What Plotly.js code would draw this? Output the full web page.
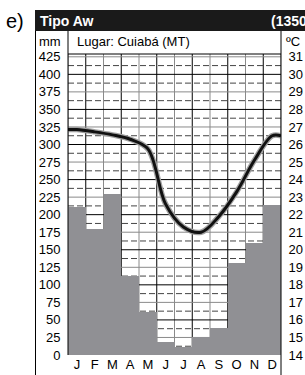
<!DOCTYPE html>
<html><head><meta charset="utf-8">
<script src="https://cdn.plot.ly/plotly-3.0.1.min.js"></script>
<style>html,body{margin:0;padding:0;background:#fff;}#c{width:305px;height:375px;}</style>
</head><body><div id="c"></div>
<script>
const months = ['J','F','M','A','M','J','J','A','S','O','N','D'];
const precip = [211, 179, 229, 113, 62, 18, 12, 25, 38, 131, 159, 214];
const tempC = [26.85, 26.72, 26.55, 26.3, 25.75, 22.6, 21.3, 21.0, 21.9, 23.3, 25.1, 26.5];
const mmTicks = [0,25,50,75,100,125,150,175,200,225,250,275,300,325,350,375,400,425];
const cTicks = [14,15,16,17,18,19,20,21,22,23,24,25,26,27,28,29,30,31];
const title = 'Tipo Aw';
const total = '(1350 mm)';
const place = 'Lugar: Cuiabá (MT)';

const L=68, R=281, T=54, B=355, W=305, H=375;
const yMax = 429;
const px = v => (v - L)/(R - L);
const py = v => (B - v)/(B - T);

const idx = months.map((m,i)=>i);
const tx = [-0.5].concat(idx, [11.5]);
const ty = [tempC[0]].concat(tempC, [tempC[11]]);
const tyMM = ty.map(t => (t-14)*25);

const shapes = [];
for (let k=0;k<=12;k++){
  shapes.push({type:'line', layer:'below', xref:'x', yref:'y', x0:k-0.5, x1:k-0.5, y0:0, y1:yMax,
    line:{color: k%2 ? '#000' : '#8a8a8a', width:1}});
}
for (let v=0; v<=425; v+=25){
  shapes.push({type:'line', layer:'below', xref:'x', yref:'y', x0:-0.5, x1:11.5, y0:v, y1:v,
    line:{color: (v%50===0) ? '#000' : '#8a8a8a', width:1}});
  if (v+12.5 < yMax) shapes.push({type:'line', layer:'below', xref:'x', yref:'y', x0:-0.5, x1:11.5, y0:v+12.5, y1:v+12.5,
    line:{color:'#444', width:1, dash:'6px,3px'}});
}
// frame
shapes.push({type:'rect', xref:'paper', yref:'paper', x0:px(35), x1:px(306), y0:py(31), y1:py(10), fillcolor:'#1a1a1a', line:{width:0}});
shapes.push({type:'line', xref:'paper', yref:'paper', x0:px(35.5), x1:px(35.5), y0:py(376), y1:py(31), line:{color:'#000', width:1}});
shapes.push({type:'line', xref:'paper', yref:'paper', x0:px(68), x1:px(68), y0:py(355), y1:py(31), line:{color:'#000', width:1}});
shapes.push({type:'line', xref:'paper', yref:'paper', x0:px(281), x1:px(281), y0:py(376), y1:py(31), line:{color:'#000', width:1}});
shapes.push({type:'line', xref:'paper', yref:'paper', x0:px(68), x1:px(281), y0:py(54), y1:py(54), line:{color:'#000', width:1}});

const fontF = 'Liberation Sans, Arial, sans-serif';
const data = [
  {type:'bar', x:idx, y:precip, width:1, marker:{color:'#909094', line:{width:0}}, hoverinfo:'skip'},
  {type:'scatter', mode:'lines', x:tx, y:tyMM, line:{shape:'spline', smoothing:1, color:'#a0a0a0', width:5.5}, hoverinfo:'skip'},
  {type:'scatter', mode:'lines', x:tx, y:tyMM, line:{shape:'spline', smoothing:1, color:'#111', width:3}, hoverinfo:'skip'},
  {type:'scatter', mode:'lines', x:[0], y:[14], yaxis:'y2', line:{width:0}, hoverinfo:'skip', showlegend:false}
];
const layout = {
  width:W, height:H, margin:{l:L, r:W-R, t:T, b:H-B, pad:0},
  paper_bgcolor:'#fff', plot_bgcolor:'#fff', showlegend:false, bargap:0,
  font:{family:fontF, size:13, color:'#000'},
  xaxis:{range:[-0.5,11.5], tickvals:idx, ticktext:months, showgrid:false, zeroline:false, showline:false,
    ticks:'', tickfont:{size:13}, fixedrange:true},
  yaxis:{range:[0,yMax], tickvals:mmTicks, showgrid:false, zeroline:false, showline:false, ticks:'outside', ticklen:4, tickcolor:'rgba(0,0,0,0)', tickfont:{size:13}},
  yaxis2:{range:[14,14+yMax/25], tickvals:cTicks, overlaying:'y', side:'right', showgrid:false, zeroline:false, showline:false, ticks:'outside', ticklen:4, tickcolor:'rgba(0,0,0,0)', tickfont:{size:13}},
  shapes:shapes,
  annotations:[
    {xref:'paper', yref:'paper', x:px(4), y:py(21), xanchor:'left', yanchor:'middle', text:'e)', showarrow:false, font:{size:20, color:'#000'}},
    {xref:'paper', yref:'paper', x:px(38), y:py(20.5), xanchor:'left', yanchor:'middle', text:'<b>'+title+'</b>', showarrow:false, font:{size:14, color:'#fff'}},
    {xref:'paper', yref:'paper', x:px(269), y:py(20.5), xanchor:'left', yanchor:'middle', text:'<b>'+total+'</b>', showarrow:false, font:{size:14, color:'#fff'}},
    {xref:'paper', yref:'paper', x:px(37), y:py(41), xanchor:'left', yanchor:'middle', text:'mm', showarrow:false, font:{size:13}},
    {xref:'paper', yref:'paper', x:px(75), y:py(42), xanchor:'left', yanchor:'middle', text:place, showarrow:false, font:{size:13}},
    {xref:'paper', yref:'paper', x:px(284), y:py(41), xanchor:'left', yanchor:'middle', text:'ºC', showarrow:false, font:{size:13}}
  ]
};
Plotly.newPlot('c', data, layout, {displayModeBar:false, staticPlot:true});
</script></body></html>
